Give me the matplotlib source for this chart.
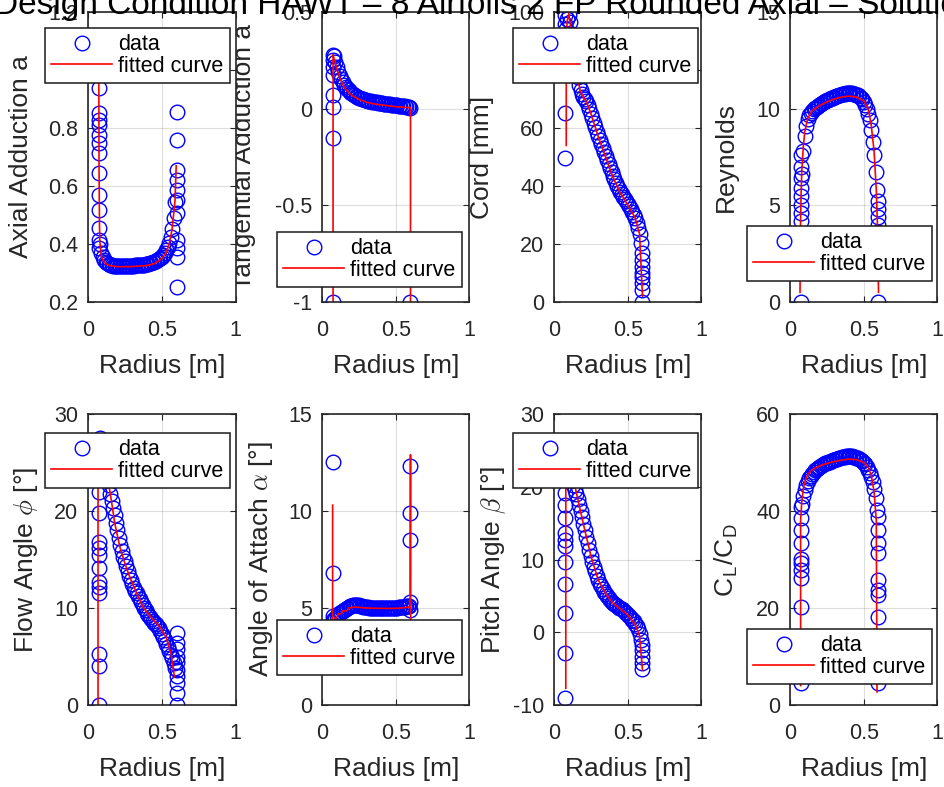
import matplotlib.pyplot as plt

plt.rcParams['font.family'] = ['Liberation Sans', 'DejaVu Sans']
plt.rcParams['mathtext.fontset'] = 'cm'
plt.rcParams['axes.unicode_minus'] = False

title = 'Design Condition HAWT – 8 Airfoils 2 FP Rounded Axial – Solution'

# radius of the hub / tip stations and of the blade elements in between
r_hub = 0.075
r_tip = 0.6
r_main = [0.08, 0.09, 0.10, 0.11, 0.12, 0.13, 0.14, 0.15, 0.16, 0.17,
          0.18, 0.19, 0.20, 0.21, 0.22, 0.23, 0.24, 0.25, 0.26, 0.27,
          0.28, 0.29, 0.30, 0.31, 0.32, 0.33, 0.34, 0.35, 0.36, 0.37,
          0.38, 0.39, 0.40, 0.41, 0.42, 0.43, 0.44, 0.45, 0.46, 0.47,
          0.48, 0.49, 0.50, 0.51, 0.52, 0.53, 0.54, 0.55, 0.56, 0.57,
          0.58, 0.59]

# axial adduction a
axial_hub = [1.05, 0.99, 0.938, 0.852, 0.828, 0.81, 0.776, 0.748, 0.714, 0.645,
             0.569, 0.517, 0.455, 0.414, 0.386]
axial_main = [0.40, 0.37, 0.355, 0.345, 0.338, 0.333, 0.330, 0.328, 0.326, 0.325,
              0.324, 0.324, 0.323, 0.323, 0.323, 0.323, 0.323, 0.323, 0.324, 0.324,
              0.324, 0.325, 0.325, 0.325, 0.326, 0.326, 0.327, 0.327, 0.328, 0.328,
              0.329, 0.330, 0.331, 0.332, 0.333, 0.335, 0.337, 0.339, 0.341, 0.344,
              0.347, 0.351, 0.356, 0.362, 0.369, 0.378, 0.390, 0.405, 0.425, 0.452,
              0.490, 0.545]
axial_tip = [0.855, 0.759, 0.655, 0.62, 0.586, 0.552, 0.507, 0.414, 0.386, 0.355, 0.252]
axial_fit_r = [0.073, 0.075, 0.078, 0.08, 0.09, 0.10, 0.12, 0.15, 0.2, 0.3, 0.4,
               0.45, 0.5, 0.53, 0.55, 0.57, 0.59, 0.598]
axial_fit = [1.02, 0.65, 0.46, 0.41, 0.36, 0.345, 0.332, 0.325, 0.322, 0.322, 0.326,
             0.332, 0.35, 0.37, 0.40, 0.45, 0.55, 0.67]

# tangential adduction a'
tang_hub = [0.278, 0.252, 0.216, 0.174, 0.071, 0.009, -0.152, -1.0]
tang_main = [0.270, 0.242, 0.216, 0.192, 0.171, 0.153, 0.138, 0.125, 0.114, 0.104,
             0.095, 0.087, 0.080, 0.074, 0.069, 0.064, 0.060, 0.056, 0.053, 0.050,
             0.048, 0.046, 0.044, 0.042, 0.040, 0.038, 0.036, 0.035, 0.033, 0.032,
             0.030, 0.029, 0.028, 0.027, 0.026, 0.025, 0.024, 0.023, 0.022, 0.021,
             0.020, 0.019, 0.018, 0.017, 0.016, 0.015, 0.014, 0.013, 0.012, 0.011,
             0.010, 0.008]
tang_tip = [0.002, -1.0]
tang_fit_r = [0.075, 0.075, 0.08, 0.09, 0.10, 0.12, 0.14, 0.16, 0.2, 0.25, 0.3,
              0.35, 0.4, 0.5, 0.6, 0.6]
tang_fit = [-1.0, 0.28, 0.265, 0.235, 0.205, 0.16, 0.125, 0.10, 0.07, 0.048, 0.034,
            0.025, 0.02, 0.01, 0.005, -1.0]

# chord [mm]
cord_hub = [99, 96, 92, 65.3, 49.7]
cord_main = [94, 97.5, 99, 96.5, 92.5, 88, 84, 80.5, 77.5, 75,
             73, 71.8, 70.8, 70.0, 69.2, 68.0, 66.6, 65.0, 63.4, 61.8,
             60.2, 58.7, 57.2, 55.8, 54.4, 53.0, 51.6, 50.2, 48.8, 47.5,
             46.2, 44.9, 43.6, 42.4, 41.2, 40.1, 39.0, 38.0, 37.1, 36.3,
             35.5, 34.7, 33.9, 33.1, 32.2, 31.2, 30.1, 28.9, 27.4, 25.6,
             23.3, 20.4]
cord_tip = [17, 14.5, 12, 10, 8.6, 6.5, 4.1, 0]
cord_fit_r = [0.083, 0.083, 0.09, 0.1, 0.11, 0.12, 0.14, 0.16, 0.18, 0.2, 0.22,
              0.25, 0.3, 0.35, 0.4, 0.45, 0.5, 0.55, 0.58, 0.6]
cord_fit = [54, 92, 97, 99.5, 96, 92, 84, 77, 72.5, 70.5, 69,
            65, 57, 50, 43, 37.5, 33.5, 29, 23.5, 2]

# Reynolds
re_hub = [7.6, 7.0, 6.4, 5.9, 5.5, 5.0, 4.6, 4.2, 0]
re_main = [6.6, 7.8, 8.6, 9.1, 9.45, 9.65, 9.8, 9.9, 10.0, 10.05,
           10.1, 10.15, 10.2, 10.25, 10.3, 10.35, 10.4, 10.43, 10.46, 10.5,
           10.53, 10.56, 10.6, 10.63, 10.66, 10.69, 10.72, 10.74, 10.76, 10.78,
           10.79, 10.8, 10.8, 10.8, 10.79, 10.78, 10.76, 10.73, 10.69, 10.64,
           10.57, 10.48, 10.36, 10.2, 10.0, 9.75, 9.4, 8.9, 8.3, 7.6,
           6.7, 5.8]
re_tip = [5.2, 4.8, 4.4, 4.0, 3.6, 0]
re_fit_r = [0.068, 0.07, 0.075, 0.08, 0.09, 0.1, 0.12, 0.15, 0.2, 0.25, 0.3,
            0.35, 0.4, 0.45, 0.5, 0.53, 0.55, 0.57, 0.585, 0.595, 0.6]
re_fit = [0.5, 3.5, 5.5, 6.8, 8.0, 8.8, 9.5, 9.9, 10.15, 10.35, 10.5,
          10.6, 10.65, 10.6, 10.4, 10.0, 9.2, 7.8, 5.8, 3.5, 0.5]

# flow angle phi
flow_hub = [26.5, 24.2, 22.0, 19.8, 16.8, 16.2, 15.5, 14.1, 12.7, 12.2, 11.5, 5.3, 4.0, 0]
flow_main = [27.5, 26.8, 26.0, 25.2, 24.4, 23.6, 22.7, 21.8, 21.0, 20.3,
             19.6, 18.8, 18.0, 17.2, 16.5, 15.9, 15.3, 14.8, 14.3, 13.8,
             13.3, 12.9, 12.5, 12.1, 11.8, 11.5, 11.2, 10.9, 10.6, 10.3,
             10.0, 9.8, 9.5, 9.3, 9.1, 8.9, 8.7, 8.5, 8.3, 8.1,
             7.9, 7.6, 7.3, 7.0, 6.7, 6.3, 6.0, 5.6, 5.2, 4.8,
             4.3, 3.8]
flow_tip = [7.4, 6.4, 5.8, 5.0, 4.4, 3.6, 3.0, 2.3, 1.2, 0]
flow_fit_r = [0.068, 0.068, 0.09, 0.12, 0.149, 0.182, 0.216, 0.25, 0.283, 0.33,
              0.372, 0.43, 0.484, 0.529, 0.563, 0.586]
flow_fit = [0, 27.5, 26, 24, 22, 18.7, 16.3, 14.6, 13.2, 11.5,
            10.1, 9.0, 8.1, 7.0, 5.3, 2.9]

# angle of attack alpha
aoa_hub = [12.54, 6.8, 4.6, 4.4, 3.9]
aoa_main = [4.4, 4.5, 4.6, 4.7, 4.75, 4.8, 4.85, 4.9, 4.95, 5.0,
            5.05, 5.1, 5.12, 5.15, 5.17, 5.17, 5.15, 5.13, 5.1, 5.08,
            5.06, 5.05, 5.04, 5.03, 5.02, 5.01, 5.0, 5.0, 4.99, 4.99,
            4.98, 4.98, 4.98, 4.98, 4.98, 4.98, 4.98, 4.98, 4.99, 4.99,
            5.0, 5.0, 5.01, 5.02, 5.03, 5.04, 5.05, 5.06, 5.07, 5.08,
            5.1, 5.1]
aoa_tip = [12.3, 9.9, 8.5, 5.3, 4.9, 3.9]
aoa_fit_r = [0.072, 0.072, 0.08, 0.09, 0.1, 0.11, 0.13, 0.14, 0.17, 0.18, 0.22,
             0.3, 0.4, 0.5, 0.598, 0.6, 0.601]
aoa_fit = [10.3, 3.2, 4.3, 4.5, 4.5, 4.7, 4.7, 4.85, 4.85, 5.0, 5.05,
           5.0, 4.98, 4.98, 5.05, 12.9, 4.3]

# pitch angle beta
pitch_hub = [23.0, 21.0, 19.1, 17.5, 15.7, 13.6, 12.7, 11.8, 9.7, 6.7, 2.6, -2.9, -9.1]
pitch_main = [24.0, 23.2, 22.5, 21.7, 21.0, 20.3, 19.6, 19.0, 18.3, 17.5,
              16.7, 15.8, 14.9, 14.0, 13.1, 12.2, 11.3, 10.5, 9.7, 9.0,
              8.4, 7.8, 7.2, 6.7, 6.3, 5.9, 5.6, 5.3, 5.0, 4.7,
              4.4, 4.2, 4.0, 3.85, 3.7, 3.55, 3.4, 3.3, 3.15, 3.0,
              2.8, 2.6, 2.4, 2.2, 2.0, 1.75, 1.5, 1.2, 0.9, 0.5,
              -0.2, -1.1]
pitch_tip = [-1.8, -2.5, -3.4, -4.2, -5.0]
pitch_fit_r = [0.08, 0.08, 0.1, 0.12, 0.143, 0.17, 0.2, 0.25, 0.3, 0.35, 0.4,
               0.45, 0.5, 0.55, 0.58, 0.6]
pitch_fit = [-7.7, 26, 24, 22, 20, 17.5, 14.8, 10.5, 7.2, 5.3, 4.0,
             3.2, 2.4, 1.1, -0.5, -5.2]

# lift to drag ratio
clcd_hub = [40.9, 38.5, 36.1, 33.3, 30.2, 29.2, 27.8, 26.1, 20.3, 4.5]
clcd_main = [41.5, 43.0, 44.3, 45.3, 46.1, 46.8, 47.3, 47.7, 48.1, 48.4,
             48.7, 48.9, 49.1, 49.3, 49.5, 49.6, 49.8, 49.9, 50.1, 50.2,
             50.4, 50.5, 50.6, 50.7, 50.8, 50.9, 51.0, 51.1, 51.2, 51.2,
             51.3, 51.3, 51.3, 51.3, 51.3, 51.2, 51.1, 51.0, 50.9, 50.7,
             50.5, 50.3, 50.0, 49.6, 49.1, 48.5, 47.8, 47.0, 46.0, 44.6,
             42.6, 40.2]
clcd_tip = [38.8, 36.1, 33.5, 31.3, 25.8, 23.7, 22.7, 18.2, 4.5]
clcd_fit_r = [0.072, 0.072, 0.08, 0.09, 0.1, 0.12, 0.15, 0.2, 0.25, 0.3, 0.35,
              0.4, 0.45, 0.5, 0.53, 0.55, 0.57, 0.585, 0.59]
clcd_fit = [4, 38, 42, 44.5, 46, 47.5, 48.5, 49.3, 49.8, 50.2, 50.5,
            50.7, 50.6, 50.0, 49.0, 47.5, 44, 38, 2.7]

W, H = 945.0, 787.0
col_left = [88, 322, 554, 790]
row_top = [12, 414]
row_h = [290, 291]
ax_w = 147.5

fig = plt.figure(figsize=(9.45, 7.87), dpi=100)


def panel(i, hub, main, tip, fit_r, fit_v, ylim, yticks, ylabel, leg_xy, lab_dx):
    row, col = divmod(i, 4)
    ax = fig.add_axes([col_left[col] / W, 1 - (row_top[row] + row_h[row]) / H,
                       ax_w / W, row_h[row] / H])
    ax.set_zorder(10 - col)
    x = [r_hub] * len(hub) + r_main + [r_tip] * len(tip)
    y = hub + main + tip
    ax.plot(x, y, 'o', ms=10.5, mfc='none', mec='b', mew=1.0, label='data')
    ax.plot(fit_r, fit_v, '-', color='r', lw=1.2, label='fitted curve')

    ax.set_xlim(0, 1)
    ax.set_ylim(*ylim)
    ax.set_xticks([0, 0.5, 1])
    ax.set_xticklabels(['0', '0.5', '1'])
    ax.set_yticks(yticks)
    ax.set_yticklabels(['%g' % t for t in yticks])
    ax.grid(True, color='0.15', alpha=0.15, lw=0.8)
    ax.set_axisbelow(True)
    ax.tick_params(direction='in', length=4, width=0.8, colors='0.15',
                   labelsize=15.5, top=True, right=True)
    ax.tick_params(axis='x', pad=13)
    ax.tick_params(axis='y', pad=7)
    for s in ax.spines.values():
        s.set_color('0.15')
        s.set_linewidth(1.2)

    ax.set_xlabel('Radius [m]', fontsize=19, color='0.15')
    ax.xaxis.set_label_coords(0.5, -52 / row_h[row])
    ax.set_ylabel(ylabel, fontsize=19, color='0.15')
    ax.yaxis.set_label_coords(-lab_dx / ax_w, 0.5)

    leg = ax.legend(loc='upper left', bbox_to_anchor=(leg_xy[0] / W, 1 - leg_xy[1] / H),
                    bbox_transform=fig.transFigure, borderaxespad=0, fancybox=False,
                    framealpha=1, edgecolor='0.1', fontsize=15.5, handlelength=2.8,
                    handletextpad=0.3, borderpad=0.3, labelspacing=0.02, numpoints=1)
    leg.get_frame().set_linewidth(1.1)
    return ax


panel(0, axial_hub, axial_main, axial_tip, axial_fit_r, axial_fit,
      (0.2, 1.2), [0.2, 0.4, 0.6, 0.8, 1.0, 1.2], 'Axial Adduction a', (45, 28), 54.7)
panel(1, tang_hub, tang_main, tang_tip, tang_fit_r, tang_fit,
      (-1, 0.5), [-1, -0.5, 0, 0.5], 'Tangential Adduction a', (277, 232), 66)
panel(2, cord_hub, cord_main, cord_tip, cord_fit_r, cord_fit,
      (0, 100), [0, 20, 40, 60, 80, 100], 'Cord [mm]', (513, 28), 60)
panel(3, re_hub, re_main, re_tip, re_fit_r, re_fit,
      (0, 15), [0, 5, 10, 15], 'Reynolds', (747, 226), 52.4)
panel(4, flow_hub, flow_main, flow_tip, flow_fit_r, flow_fit,
      (0, 30), [0, 10, 20, 30], r'Flow Angle $\phi$ [°]', (45, 433), 47.7)
panel(5, aoa_hub, aoa_main, aoa_tip, aoa_fit_r, aoa_fit,
      (0, 15), [0, 5, 10, 15], r'Angle of Attach $\alpha$ [°]', (277, 620), 47)
panel(6, pitch_hub, pitch_main, pitch_tip, pitch_fit_r, pitch_fit,
      (-10, 30), [-10, 0, 10, 20, 30], r'Pitch Angle $\beta$ [°]', (513, 433), 46.4)
panel(7, clcd_hub, clcd_main, clcd_tip, clcd_fit_r, clcd_fit,
      (0, 60), [0, 20, 40, 60], r'C$_{\mathregular{L}}$/C$_{\mathregular{D}}$', (747, 629), 50)

fig.text(-0.006, 1 - 14 / H, title, fontsize=24, ha='left', va='baseline', zorder=20)

fig.savefig('out.png', dpi=100)
